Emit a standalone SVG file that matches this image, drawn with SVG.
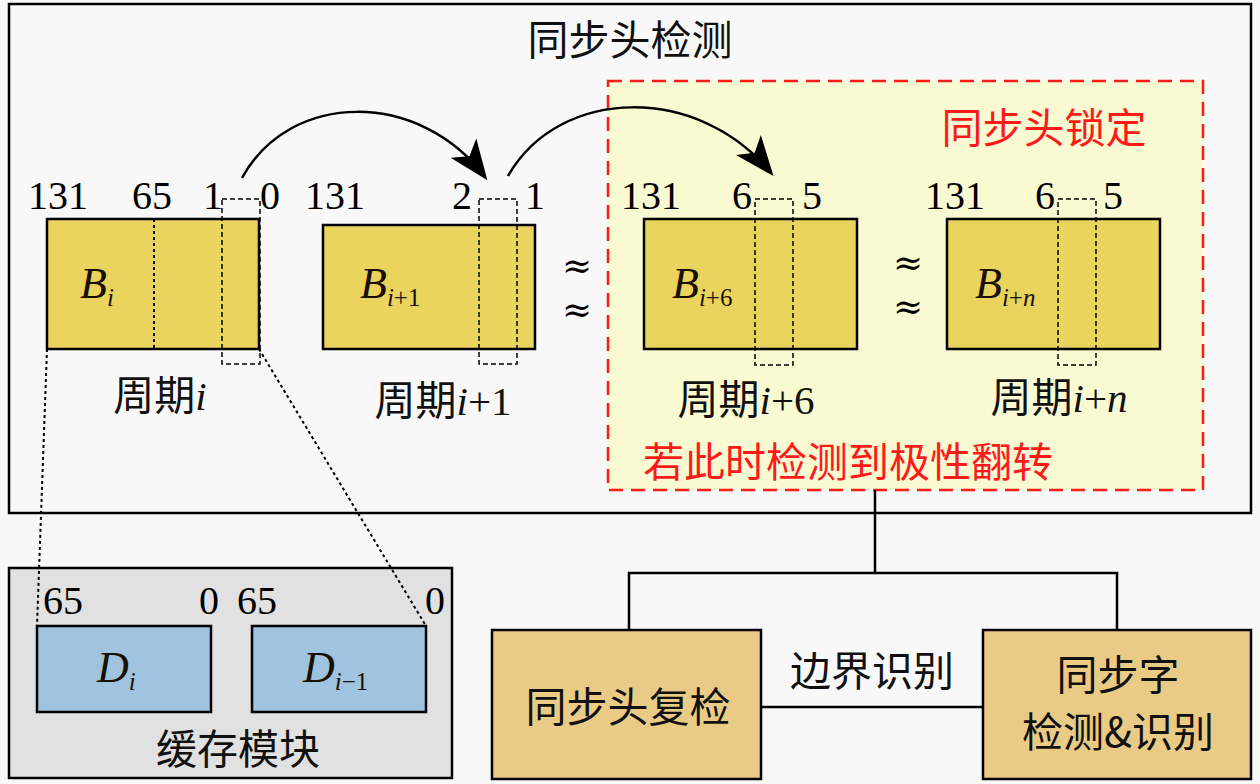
<svg xmlns="http://www.w3.org/2000/svg" width="1260" height="784" viewBox="0 0 1260 784">
<style>
.num{font-family:"Liberation Serif","Times New Roman","DejaVu Serif",serif;font-size:40px;fill:#000;}
.cjk{font-family:"Noto Sans CJK SC",sans-serif;font-size:41px;fill:#111;}
.ser{font-family:"Liberation Serif","Times New Roman","DejaVu Serif",serif;}
.red{fill:#ff1a1a;}
.math{font-family:"Liberation Serif","Times New Roman","DejaVu Serif",serif;font-style:italic;font-size:44px;fill:#1a1000;}
.sub{font-size:25px;}
.it{font-style:italic;}
.up{font-style:normal;}
.blk{fill:#ebd45e;stroke:#000;stroke-width:2.5;}
.sel{fill:none;stroke:#000;stroke-width:1.5;stroke-dasharray:5 3;}
.dot{fill:none;stroke:#000;stroke-width:2;stroke-dasharray:3 3;}
.dbox{fill:#a0c3e0;stroke:#000;stroke-width:2.5;}
.obox{fill:#e9cb86;stroke:#000;stroke-width:2.5;}
.wire{fill:none;stroke:#000;stroke-width:2.5;}
.apx{font-family:"DejaVu Serif",serif;font-size:36px;fill:#000;}
</style>
<defs>
<marker id="ahb" viewBox="0 0 10 10" refX="9" refY="5" markerWidth="40" markerHeight="40" markerUnits="userSpaceOnUse" orient="auto">
<path d="M0,1 L10,5 L0,9 L2.5,5 Z" fill="#000"/>
</marker>
</defs>
<rect width="1260" height="784" fill="#f8f8f8"/>

<g id="detect">
<rect x="9" y="4" width="1242" height="509" fill="#f8f8f8" stroke="#000" stroke-width="2.5"/>
<text class="cjk" x="630" y="55" text-anchor="middle">同步头检测</text>
</g>

<g id="lock">
<rect x="608" y="81" width="595" height="409" fill="#fafad2" stroke="#ff1a1a" stroke-width="2.5" stroke-dasharray="14 8"/>
<text class="cjk red" x="1044" y="143" text-anchor="middle">同步头锁定</text>
<text class="cjk red" x="848" y="477" text-anchor="middle">若此时检测到极性翻转</text>
</g>

<g id="Bi">
<rect class="blk" x="47" y="219" width="212" height="130"/>
<line class="dot" x1="154" y1="219" x2="154" y2="349"/>
<rect class="sel" x="222" y="199" width="38" height="165"/>
<text class="num" x="58" y="209" text-anchor="middle">131</text>
<text class="num" x="152" y="209" text-anchor="middle">65</text>
<text class="num" x="213" y="209" text-anchor="middle">1</text>
<text class="num" x="270" y="209" text-anchor="middle">0</text>
<text class="math" x="80" y="298">B<tspan class="sub" dy="8">i</tspan></text>
<text class="cjk" x="160" y="410" text-anchor="middle">周期<tspan class="ser it">i</tspan></text>
</g>

<g id="Bi1">
<rect class="blk" x="323" y="225" width="212" height="124"/>
<rect class="sel" x="479" y="199" width="38" height="165"/>
<text class="num" x="335" y="209" text-anchor="middle">131</text>
<text class="num" x="462" y="209" text-anchor="middle">2</text>
<text class="num" x="535" y="209" text-anchor="middle">1</text>
<text class="math" x="360" y="298">B<tspan class="sub" dy="8">i<tspan class="up">+1</tspan></tspan></text>
<text class="cjk" x="443" y="415" text-anchor="middle">周期<tspan class="ser"><tspan class="it">i</tspan>+1</tspan></text>
</g>

<g id="Bi6">
<rect class="blk" x="644" y="219" width="213" height="130"/>
<rect class="sel" x="755" y="199" width="38" height="166"/>
<text class="num" x="651" y="209" text-anchor="middle">131</text>
<text class="num" x="742" y="209" text-anchor="middle">6</text>
<text class="num" x="812" y="209" text-anchor="middle">5</text>
<text class="math" x="672" y="298">B<tspan class="sub" dy="8">i<tspan class="up">+6</tspan></tspan></text>
<text class="cjk" x="746" y="414" text-anchor="middle">周期<tspan class="ser"><tspan class="it">i</tspan>+6</tspan></text>
</g>

<g id="Bin">
<rect class="blk" x="947" y="219" width="213" height="130"/>
<rect class="sel" x="1058" y="199" width="38" height="166"/>
<text class="num" x="955" y="209" text-anchor="middle">131</text>
<text class="num" x="1045" y="209" text-anchor="middle">6</text>
<text class="num" x="1113" y="209" text-anchor="middle">5</text>
<text class="math" x="975" y="298">B<tspan class="sub" dy="8">i<tspan class="up">+</tspan>n</tspan></text>
<text class="cjk" x="1059" y="412" text-anchor="middle">周期<tspan class="ser"><tspan class="it">i</tspan>+<tspan class="it">n</tspan></tspan></text>
</g>

<g id="approx">
<text class="apx" text-anchor="middle"><tspan x="577" y="278">≈</tspan><tspan x="577" y="322">≈</tspan></text>
<text class="apx" text-anchor="middle"><tspan x="908" y="275">≈</tspan><tspan x="908" y="319">≈</tspan></text>
</g>

<g id="cache">
<rect x="9" y="568" width="443" height="210" fill="#e1e1e1" stroke="#000" stroke-width="2.5"/>
<rect class="dbox" x="37" y="626" width="174" height="86"/>
<rect class="dbox" x="252" y="626" width="174" height="86"/>
<text class="num" x="63" y="614" text-anchor="middle">65</text>
<text class="num" x="209" y="614" text-anchor="middle">0</text>
<text class="num" x="257" y="614" text-anchor="middle">65</text>
<text class="num" x="435" y="614" text-anchor="middle">0</text>
<text class="math" x="97" y="682">D<tspan class="sub" dy="8">i</tspan></text>
<text class="math" x="303" y="682">D<tspan class="sub" dy="8">i<tspan class="up">−1</tspan></tspan></text>
<text class="cjk" x="238" y="764" text-anchor="middle">缓存模块</text>
</g>

<g id="recheck">
<rect class="obox" x="492" y="630" width="269" height="149"/>
<text class="cjk" x="628" y="722" text-anchor="middle">同步头复检</text>
</g>

<g id="syncword">
<rect class="obox" x="983" y="630" width="268" height="149"/>
<text class="cjk" text-anchor="middle" font-size="39"><tspan x="1118" y="690">同步字</tspan><tspan x="1118" y="747">检测&amp;识别</tspan></text>
</g>

<g id="connectors">
<path class="wire" d="M242,178 C290,90 420,90 485,177" stroke-width="3" marker-end="url(#ahb)"/>
<path class="wire" d="M508,176 C560,85 700,85 771,173" stroke-width="3" marker-end="url(#ahb)"/>
<line class="dot" x1="47" y1="349" x2="37" y2="626"/>
<line class="dot" x1="259" y1="349" x2="426" y2="626"/>
<polyline class="wire" points="875,490 875,573"/>
<polyline class="wire" points="629,630 629,573 1117,573 1117,630"/>
<line class="wire" x1="761" y1="707" x2="983" y2="707"/>
<text class="cjk" x="872" y="686" text-anchor="middle">边界识别</text>
</g>
</svg>
